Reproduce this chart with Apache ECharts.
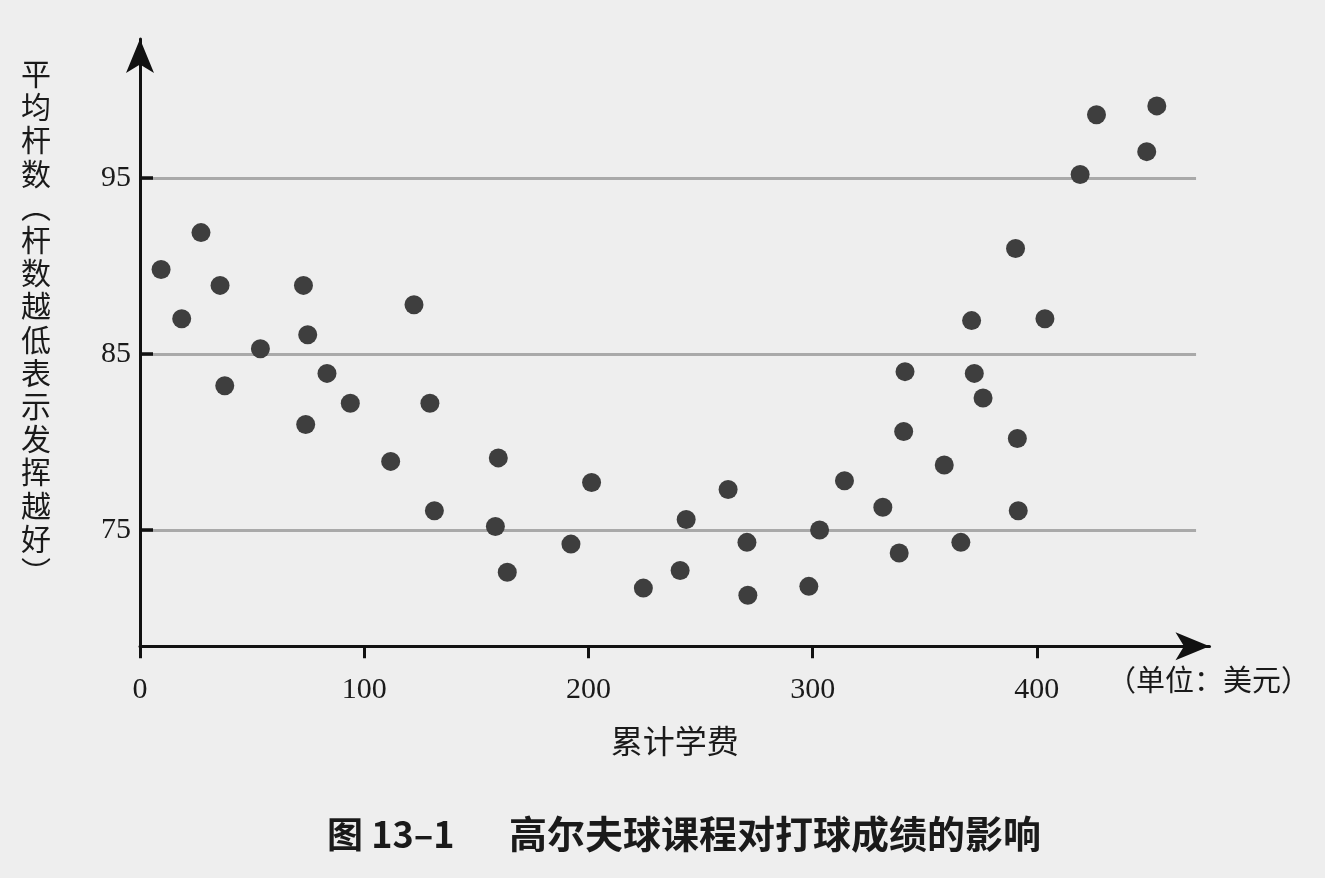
<!DOCTYPE html>
<html>
<head>
<meta charset="utf-8">
<script src="https://cdn.jsdelivr.net/npm/echarts@6/dist/echarts.min.js"></script>
<style>
html,body{margin:0;padding:0;background:#eeeeee;}
#chart{width:1325px;height:878px;}
</style>
</head>
<body>
<div id="chart"></div>
<script>
// 累计学费（美元）
const tuition = [9.4, 18.6, 27.2, 35.7, 37.8, 53.7, 72.9, 74.8, 73.9, 83.4, 93.8, 111.8, 122.2, 129.3, 131.3, 158.5, 159.8, 163.8, 192.2, 201.4, 224.5, 240.9, 243.6, 262.3, 270.7, 271.1, 298.3, 303.1, 314.2, 331.3, 338.6, 340.6, 341.2, 358.7, 366.1, 370.9, 372.1, 376.0, 390.5, 391.3, 391.7, 403.6, 419.3, 426.6, 449.0, 453.5];
// 平均杆数
const strokes = [89.8, 87.0, 91.9, 88.9, 83.2, 85.3, 88.9, 86.1, 81.0, 83.9, 82.2, 78.9, 87.8, 82.2, 76.1, 75.2, 79.1, 72.6, 74.2, 77.7, 71.7, 72.7, 75.6, 77.3, 74.3, 71.3, 71.8, 75.0, 77.8, 76.3, 73.7, 80.6, 84.0, 78.7, 74.3, 86.9, 83.9, 82.5, 91.0, 80.2, 76.1, 87.0, 95.2, 98.6, 96.5, 99.1];
const xTicks = [0, 100, 200, 300, 400];
const yTicks = [75, 85, 95];
const refLines = [75, 85, 95];
const refLineEnd = 471;

const yName = '平均杆数︵杆数越低表示发挥越好︶';
const xName = '累计学费';
const xUnit = '（单位：美元）';
const figNo = '图 13–1';
const figTitle = '高尔夫球课程对打球成绩的影响';

const ink = '#1a1a1a';
const chart = echarts.init(document.getElementById('chart'), null, {renderer: 'canvas'});
const points = tuition.map((x, i) => [x, strokes[i]]);

chart.setOption({
  backgroundColor: '#eeeeee',
  animation: false,
  grid: {left: 140, right: 115.5, top: 39, bottom: 231.8, containLabel: false, outerBoundsMode: 'none'},
  xAxis: {
    type: 'value', min: 0, max: 477, interval: 100,
    name: xName, nameLocation: 'middle', nameGap: 79,
    nameTextStyle: {fontFamily: 'Noto Sans CJK SC', fontSize: 32, color: ink},
    axisLine: {show: true, onZero: false, lineStyle: {color: '#111', width: 3}, symbol: ['none', 'arrow'], symbolSize: [21, 34]},
    axisTick: {show: true, inside: false, length: 12, lineStyle: {color: '#111', width: 3}, customValues: xTicks},
    axisLabel: {margin: 29, fontFamily: 'Liberation Serif', fontSize: 30, color: ink, customValues: xTicks},
    splitLine: {show: false}
  },
  yAxis: {
    type: 'value', min: 68.4, max: 102.9, z: 3,
    axisLine: {show: true, onZero: false, lineStyle: {color: '#111', width: 3}, symbol: ['none', 'arrow'], symbolSize: [21, 34]},
    axisTick: {show: true, inside: true, length: 13, lineStyle: {color: '#111', width: 3.5}, customValues: yTicks},
    axisLabel: {margin: 9, fontFamily: 'Liberation Serif', fontSize: 30, color: ink, customValues: yTicks},
    splitLine: {show: false}
  },
  series: [{
    type: 'scatter',
    z: 2,
    data: points,
    symbol: 'circle',
    symbolSize: 19,
    itemStyle: {color: '#3e3e3e', opacity: 1},
    markLine: {
      z: 1,
      silent: true,
      symbol: ['none', 'none'],
      label: {show: false},
      lineStyle: {color: '#a9a9a9', width: 3, type: 'solid'},
      data: refLines.map(v => [{coord: [0, v]}, {coord: [refLineEnd, v]}])
    }
  }],
  graphic: [
    {type: 'text', x: 36, y: 57, style: {text: yName.split('').join('\n'), fontFamily: 'Noto Sans CJK SC', fontSize: 30, lineHeight: 33.2, fill: ink, align: 'center', verticalAlign: 'top'}},
    {type: 'text', x: 1107, y: 680, style: {text: xUnit, fontFamily: 'Noto Sans CJK SC', fontSize: 29, fill: ink, align: 'left', verticalAlign: 'middle'}},
    {type: 'text', x: 327, y: 834, style: {text: figNo, fontFamily: 'Noto Sans CJK SC', fontWeight: 'bold', fontSize: 36, fill: ink, align: 'left', verticalAlign: 'middle'}},
    {type: 'text', x: 509, y: 834, style: {text: figTitle, fontFamily: 'Noto Sans CJK SC', fontWeight: 'bold', fontSize: 38, fill: ink, align: 'left', verticalAlign: 'middle'}}
  ]
});
</script>
</body>
</html>
